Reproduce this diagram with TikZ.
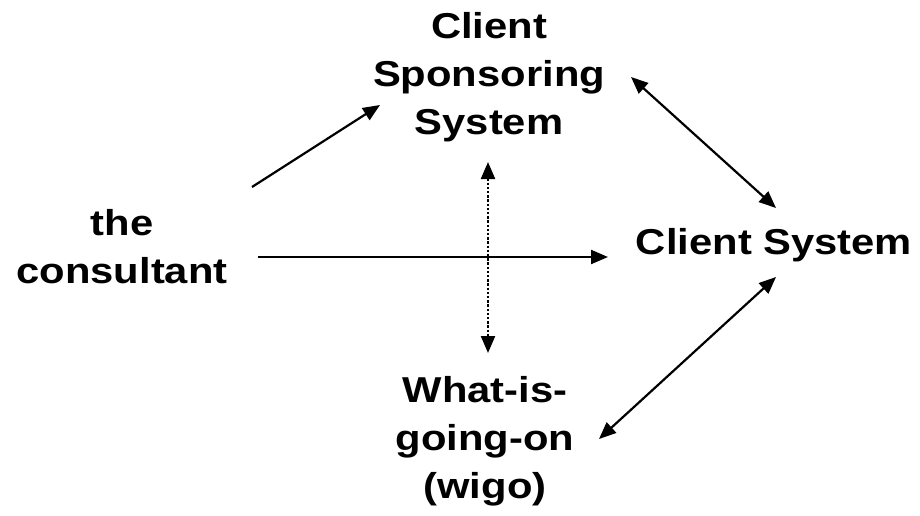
\documentclass[tikz,border=0pt]{standalone}
\usepackage{fontspec}
\setmainfont{Liberation Sans}
\usepackage{graphicx}
\usetikzlibrary{arrows.meta}

% bold, slightly widened multi-line label
\newcommand{\widelabel}[1]{\scalebox{1.16}[1]{\begin{tabular}[t]{@{}c@{}}#1\end{tabular}}}

\begin{document}
\begin{tikzpicture}[x=1pt,y=-1pt,
  lbl/.style={anchor=base, inner sep=0pt, font=\fontsize{36}{48}\selectfont\bfseries},
  link/.style={line width=2.2pt, -{Triangle[length=17pt,width=14pt]}},
  twoway/.style={line width=2.2pt, {Triangle[length=17pt,width=14pt]}-{Triangle[length=17pt,width=14pt]}},
  dotlink/.style={line width=2.2pt, dash pattern=on 2.4pt off 1.8pt,
    {Triangle[length=17pt,width=14pt]}-{Triangle[length=17pt,width=14pt]}}]
  \useasboundingbox (0,0) rectangle (920,516);

  % labels
  \node[lbl] (sponsor) at (489,39) {\widelabel{Client\\Sponsoring\\System}};
  \node[lbl] (consultant) at (122,235) {\widelabel{the\\consultant}};
  \node[lbl] (client) at (774,254) {\widelabel{Client System}};
  \node[lbl] (wigo) at (485,402) {\widelabel{What-is-\\going-on\\(wigo)}};

  % connector end points beside the labels
  \coordinate (conUp) at (252,187);
  \coordinate (sponIn) at (380,105);
  \coordinate (conRight) at (258,257);
  \coordinate (cliLeft) at (608,257);
  \coordinate (sponBottom) at (488,162);
  \coordinate (wigoTop) at (488,353);
  \coordinate (sponRight) at (631,77);
  \coordinate (cliTop) at (776,208);
  \coordinate (cliBottom) at (776,277);
  \coordinate (wigoRight) at (599,439);

  % connectors
  \draw[link] (conUp) -- (sponIn);
  \draw[link] (conRight) -- (cliLeft);
  \draw[dotlink] (sponBottom) -- (wigoTop);
  \draw[twoway] (sponRight) -- (cliTop);
  \draw[twoway] (cliBottom) -- (wigoRight);
\end{tikzpicture}
\end{document}
